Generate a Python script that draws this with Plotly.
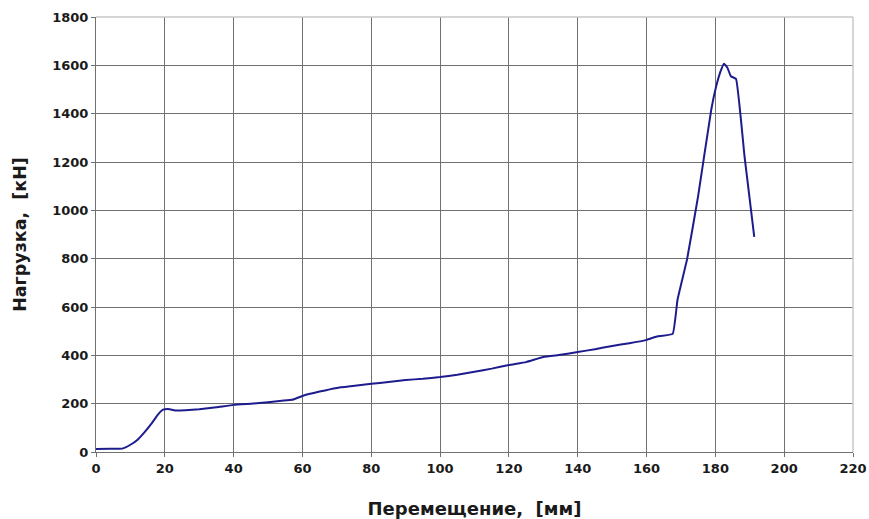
import plotly.graph_objects as go

displacement = [0, 4, 7.6, 10, 12, 14, 16, 18, 19.5, 21, 23, 26, 30, 35, 40, 45, 50, 54, 57, 60, 65, 70, 74, 80, 85, 90,
                95, 100, 105, 110, 115, 120, 125, 130, 135, 140, 145, 150, 155, 160, 163, 167.6,
                169, 171.8, 175, 178.8, 180.2, 181.5, 182.5, 183.5, 184.5, 186, 188.5, 191.3]
load = [12, 13, 14, 30, 50, 80, 115, 155, 175, 178, 172, 173, 177, 185, 195, 200, 206, 212, 216, 232, 250, 265, 272, 282, 290, 298,
        303, 310, 320, 332, 345, 360, 372, 393, 402, 414, 425, 439, 450, 464, 478, 489,
        630, 799, 1060, 1416, 1511, 1575, 1607, 1590, 1555, 1544, 1220, 890]

xticks = list(range(0, 221, 20))
yticks = list(range(0, 1801, 200))

FONT = "DejaVu Sans, Arial, sans-serif"

fig = go.Figure()
fig.add_trace(go.Scatter(x=displacement, y=load, mode="lines",
                         line=dict(color="#1c1c8e", width=2, shape="spline", smoothing=0.3),
                         showlegend=False))

fig.update_layout(
    width=869, height=519,
    margin=dict(l=96, r=16, t=17, b=67),
    paper_bgcolor="white", plot_bgcolor="white",
    font=dict(family=FONT, color="#1a1a1a"),
    xaxis=dict(range=[0, 220], tickvals=xticks, showgrid=True, gridcolor="#707070", gridwidth=1,
               zeroline=False, showline=True, linecolor="#707070", linewidth=1,
               ticks="outside", ticklen=4, tickcolor="#707070", automargin=False,
               ticklabeloverflow="allow",
               tickfont=dict(size=13, family=FONT, weight="bold"),
               title=dict(text="<b>Перемещение,  [мм]</b>", font=dict(size=18, family=FONT), standoff=32)),
    yaxis=dict(range=[0, 1800], tickvals=yticks, showgrid=True, gridcolor="#707070", gridwidth=1,
               zeroline=False, showline=True, linecolor="#707070", linewidth=1,
               ticks="outside", ticklen=4, tickcolor="#707070", automargin=False,
               tickfont=dict(size=13, family=FONT, weight="bold"),
               title=dict(text="<b>Нагрузка,  [кН]</b>", font=dict(size=17.5, family=FONT), standoff=21)),
    shapes=[dict(type="line", xref="paper", yref="paper", x0=0, x1=1, y0=1, y1=1,
                 line=dict(color="#c8c8c8", width=1.5)),
            dict(type="line", xref="paper", yref="paper", x0=1, x1=1, y0=0, y1=1,
                 line=dict(color="#c8c8c8", width=1.5))],
)

# remove the page's default body margin so the figure sits at the window's top-left corner
fig.write_html("out.html", config={"displayModeBar": False},
               post_script="document.body.style.margin='0';document.body.style.overflow='hidden';")
